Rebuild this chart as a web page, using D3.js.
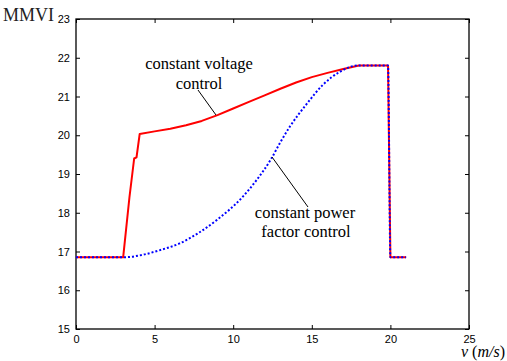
<!DOCTYPE html>
<html>
<head>
<meta charset="utf-8">
<script src="https://cdn.jsdelivr.net/npm/d3@7"></script>
<style>
  html, body { margin: 0; padding: 0; background: #fff; }
  svg { display: block; }
  .serif { font-family: "Liberation Serif", "Times New Roman", serif; }
  .sans { font-family: "Liberation Sans", Arial, sans-serif; }
</style>
</head>
<body>
<svg id="chart" width="507" height="361"></svg>
<script>
// Wind speed (m/s) and MMVI for the two control strategies
const voltageX = [0, 3.0, 3.4, 3.7, 3.85, 4.05, 5, 6, 7, 8, 9, 10, 11, 12, 13, 14, 15, 16, 17, 18.0, 19.85, 20.0, 21.0];
const voltageY = [16.85, 16.85, 18.4, 19.4, 19.43, 20.03, 20.10, 20.17, 20.26, 20.37, 20.52, 20.69, 20.86, 21.03, 21.20, 21.36, 21.50, 21.61, 21.71, 21.8, 21.8, 16.85, 16.85];

const powerFactorX = [0, 3.0, 4.3, 5.3, 6.6, 7.8, 8.95, 10.6, 11.5, 12.4, 13.0, 13.6, 14.7, 15.7, 16.8, 17.9, 19.85, 20.0, 21.0];
const powerFactorY = [16.85, 16.85, 16.92, 17.03, 17.21, 17.48, 17.81, 18.41, 18.85, 19.38, 19.82, 20.22, 20.82, 21.3, 21.64, 21.8, 21.8, 16.85, 16.85];

const xTicks = [0, 5, 10, 15, 20, 25];
const yTicks = [15, 16, 17, 18, 19, 20, 21, 22, 23];

const svg = d3.select("#chart");
const plotL = 76, plotR = 469, plotT = 19, plotB = 329;

const x = d3.scaleLinear().domain([0, 25]).range([plotL, plotR]);
const y = d3.scaleLinear().domain([15, 23]).range([plotB, plotT]);

// Axes with inward ticks on all four sides
const axes = [
  { gen: d3.axisBottom(x).tickValues(xTicks).tickFormat(d3.format("d")), t: `translate(0,${plotB})`, labels: true },
  { gen: d3.axisTop(x).tickValues(xTicks), t: `translate(0,${plotT})`, labels: false },
  { gen: d3.axisLeft(y).tickValues(yTicks).tickFormat(d3.format("d")), t: `translate(${plotL},0)`, labels: true },
  { gen: d3.axisRight(y).tickValues(yTicks), t: `translate(${plotR},0)`, labels: false }
];
axes.forEach(a => {
  const g = svg.append("g").attr("transform", a.t).call(a.gen.tickSizeInner(-4).tickSizeOuter(0).tickPadding(6));
  g.select(".domain").remove();
  g.selectAll(".tick line").attr("stroke", "#000").attr("stroke-width", 1);
  g.selectAll(".tick text")
    .attr("class", "sans").attr("font-size", 11).attr("fill", "#000");
  if (!a.labels) g.selectAll(".tick text").remove();
});

// Frame
svg.append("rect")
  .attr("x", plotL).attr("y", plotT)
  .attr("width", plotR - plotL).attr("height", plotB - plotT)
  .attr("fill", "none").attr("stroke", "#000").attr("stroke-width", 1.3);

const voltagePts = voltageX.map((v, i) => [v, voltageY[i]]);
const pfPts = powerFactorX.map((v, i) => [v, powerFactorY[i]]);

svg.append("path")
  .datum(voltagePts)
  .attr("d", d3.line().x(d => x(d[0])).y(d => y(d[1])))
  .attr("fill", "none").attr("stroke", "#ff0000").attr("stroke-width", 2)
  .attr("stroke-linejoin", "round");

svg.append("path")
  .datum(pfPts)
  .attr("d", d3.line().x(d => x(d[0])).y(d => y(d[1])).curve(d3.curveMonotoneX))
  .attr("fill", "none").attr("stroke", "#0000ff").attr("stroke-width", 2)
  .attr("stroke-dasharray", "2,2");

// Annotations
const notes = [
  { text: "constant voltage", x: 199, y: 69 },
  { text: "control", x: 199, y: 89 },
  { text: "constant power", x: 305, y: 218 },
  { text: "factor control", x: 306, y: 237 }
];
svg.append("g").selectAll("text").data(notes).join("text")
  .attr("class", "serif").attr("font-size", 16.5).attr("fill", "#000")
  .attr("text-anchor", "middle")
  .attr("x", d => d.x).attr("y", d => d.y).text(d => d.text);

svg.append("line").attr("x1", 198).attr("y1", 90).attr("x2", 216).attr("y2", 115)
  .attr("stroke", "#000").attr("stroke-width", 1);
svg.append("line").attr("x1", 272).attr("y1", 157).attr("x2", 308).attr("y2", 207)
  .attr("stroke", "#000").attr("stroke-width", 1);

// Axis titles
svg.append("text").attr("x", 3).attr("y", 21).attr("class", "serif")
  .attr("font-size", 18).attr("fill", "#222").text("MMVI");

const xt = svg.append("text").attr("x", 505).attr("y", 357).attr("text-anchor", "end")
  .attr("class", "serif").attr("font-size", 16).attr("fill", "#000");
xt.append("tspan").attr("font-style", "italic").text("v");
xt.append("tspan").text(" (");
xt.append("tspan").attr("font-style", "italic").text("m/s");
xt.append("tspan").text(")");
</script>
</body>
</html>
